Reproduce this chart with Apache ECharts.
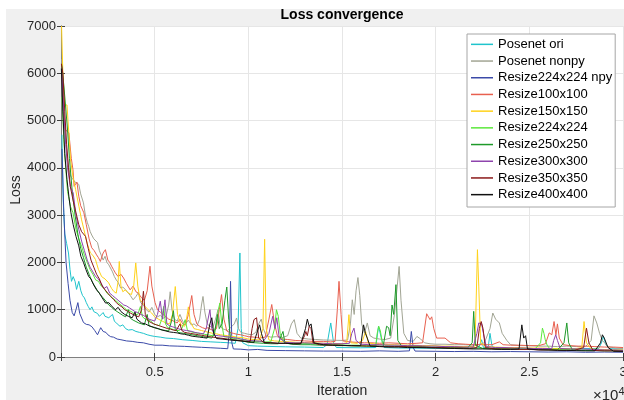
<!DOCTYPE html>
<html><head><meta charset="utf-8">
<script src="https://cdn.jsdelivr.net/npm/echarts@6/dist/echarts.min.js"></script>
<style>html,body{margin:0;padding:0;background:#fff}#c{width:624px;height:400px}</style>
</head><body><div id="c"></div>
<script>
// ---- data: [iteration, loss] ----
const seriesNames = ['Posenet ori','Posenet nonpy','Resize224x224 npy','Resize100x100','Resize150x150','Resize224x224','Resize250x250','Resize300x300','Resize350x350','Resize400x400'];
const xTicks = [5000,10000,15000,20000,25000,30000];
const yTicks = [0,1000,2000,3000,4000,5000,6000,7000];

const poseOri = [[50,4700],[120,3300],[200,2600],[300,2400],[400,2200],[480,1850],[560,1600],[650,1700],[750,1600],[830,1430],[950,1600],[1060,1400],[1150,1300],[1250,1250],[1350,1150],[1450,1070],[1550,1000],[1650,1060],[1750,960],[1850,980],[1950,920],[2050,860],[2150,880],[2250,940],[2350,860],[2450,900],[2550,830],[2650,800],[2750,900],[2850,760],[3000,700],[3150,650],[3300,680],[3450,600],[3600,570],[3800,580],[4000,540],[4200,520],[4400,500],[4600,470],[4800,450],[5000,435],[5300,420],[5600,400],[6000,390],[6500,365],[7000,350],[7500,330],[8000,320],[8500,310],[9000,300],[9300,290],[9450,600],[9550,2200],[9620,600],[9700,300],[10000,240],[10500,230],[11000,225],[12000,215],[13000,210],[14000,200],[14200,260],[14400,720],[14550,300],[14700,200],[16000,195],[16800,200],[16950,650],[17100,400],[17250,200],[18000,190],[20000,185],[22000,180],[22300,200],[22450,365],[22550,200],[22800,190],[22900,500],[23000,250],[23100,190],[25000,180],[27000,175],[28700,180],[28850,300],[28950,435],[29100,250],[29300,175],[30000,170]];

const poseNonpy = [[50,6300],[150,5200],[250,4600],[350,4200],[450,3900],[550,3800],[650,3750],[750,3700],[850,3700],[950,3650],[1050,3450],[1200,3260],[1300,3000],[1400,2850],[1480,2760],[1560,2650],[1640,2580],[1750,2500],[1850,2470],[1950,2420],[2050,2250],[2150,2150],[2250,2050],[2350,2130],[2450,2000],[2550,1950],[2650,1920],[2750,1800],[2850,1700],[2950,1630],[3050,1580],[3180,1460],[3300,1480],[3450,1420],[3550,1440],[3700,1300],[3850,1210],[4000,1280],[4130,1360],[4250,1150],[4400,1100],[4550,1000],[4700,950],[4850,1050],[5000,900],[5150,850],[5300,880],[5450,820],[5600,850],[5750,1100],[5830,1380],[5920,1000],[6050,800],[6200,760],[6350,900],[6500,750],[6650,700],[6800,780],[6950,680],[7100,700],[7250,650],[7400,800],[7500,1100],[7580,1280],[7680,950],[7800,700],[7950,650],[8100,620],[8250,800],[8380,1000],[8480,700],[8600,600],[8750,580],[8900,560],[9050,620],[9250,700],[9370,825],[9480,600],[9600,520],[9800,500],[10000,480],[10200,470],[10400,520],[10550,700],[10690,800],[10800,600],[10950,450],[11200,420],[11500,430],[11800,410],[12100,450],[12300,700],[12450,790],[12600,500],[12800,400],[13200,380],[13600,370],[14000,360],[14500,355],[15000,350],[15300,360],[15450,700],[15550,1210],[15650,900],[15750,1400],[15850,1680],[15950,1300],[16050,700],[16200,500],[16350,720],[16500,450],[16700,400],[17000,380],[17300,370],[17600,400],[17800,900],[17950,1500],[18050,1915],[18150,1200],[18300,500],[18500,350],[18800,330],[19000,435],[19200,380],[19400,300],[19700,280],[20000,270],[20500,270],[21000,260],[21500,260],[22000,250],[22300,260],[22600,300],[22900,600],[23050,930],[23200,800],[23400,720],[23550,500],[23800,350],[24000,260],[24500,240],[25000,240],[25500,230],[26000,230],[26500,220],[27000,230],[27500,220],[28000,220],[28300,350],[28450,870],[28600,720],[28750,500],[28900,350],[29200,220],[29600,190],[30000,180]];

const resize224npy = [[50,4400],[150,3050],[270,2000],[380,1550],[480,1200],[600,940],[700,870],[800,1000],[900,1150],[1000,920],[1100,900],[1200,730],[1350,690],[1500,680],[1650,640],[1800,560],[1950,470],[2050,560],[2120,620],[2250,540],[2400,520],[2500,470],[2650,430],[2800,420],[3000,380],[3200,365],[3500,340],[3800,330],[4100,310],[4400,300],[4700,270],[5000,250],[5400,250],[5800,235],[6200,230],[6600,225],[7000,215],[7500,205],[8000,195],[8500,185],[8900,175],[9000,600],[9050,1600],[9120,300],[9200,170],[9600,165],[10000,150],[10500,160],[11000,140],[12000,135],[13000,130],[14000,125],[15000,125],[16000,120],[17000,130],[18000,120],[18600,130],[18700,540],[18800,200],[18900,125],[20000,120],[21000,115],[22000,120],[23000,110],[24000,115],[25000,110],[26000,105],[27000,110],[28000,100],[29000,105],[30000,100]];

const resize100 = [[50,6000],[150,5000],[250,4800],[420,4740],[550,4200],[640,3960],[700,3610],[850,3700],[950,3400],[1050,3200],[1220,3050],[1350,2800],[1500,2500],[1640,2310],[1770,2250],[1900,2160],[2000,2100],[2100,2020],[2250,2200],[2370,2270],[2500,2050],[2600,2000],[2700,1920],[2800,1850],[2900,1780],[3050,1700],[3200,1750],[3340,1670],[3500,1550],[3690,1420],[3850,1500],[4000,1380],[4130,1350],[4300,1250],[4450,1200],[4600,1400],[4750,1920],[4850,1500],[5020,1150],[5150,1000],[5300,950],[5450,900],[5600,850],[5750,800],[5900,780],[6050,750],[6200,720],[6350,800],[6500,700],[6650,680],[6800,900],[6980,1300],[7100,900],[7250,700],[7400,650],[7550,620],[7700,600],[7850,620],[8000,580],[8150,560],[8300,600],[8450,1000],[8570,1320],[8700,800],[8850,550],[9000,520],[9200,500],[9400,480],[9600,470],[9800,450],[10000,430],[10300,420],[10600,400],[10900,420],[11100,800],[11250,1110],[11400,700],[11550,450],[11800,380],[12100,370],[12500,350],[13000,340],[13500,330],[14000,330],[14400,320],[14630,330],[14750,1000],[14840,1600],[14950,900],[15050,340],[15400,320],[15800,310],[16200,300],[16600,300],[17000,290],[17500,300],[18000,290],[18500,280],[19000,290],[19300,300],[19520,915],[19700,790],[19790,850],[19900,600],[20050,400],[20500,400],[20800,300],[21200,280],[21600,270],[22000,260],[22500,260],[23000,260],[23400,320],[23600,260],[24000,250],[24500,250],[25000,240],[25500,240],[25860,280],[26060,510],[26200,470],[26320,750],[26420,470],[26500,700],[26600,400],[26800,260],[27200,240],[27600,230],[28000,230],[28500,220],[29000,210],[29500,210],[30000,200]];

const resize150 = [[30,7000],[100,6000],[200,5330],[320,5330],[420,5300],[510,4170],[640,3800],[780,3540],[960,3180],[1100,2900],[1220,2700],[1400,2400],[1570,2200],[1700,2150],[1840,2060],[2000,1850],[2170,1700],[2350,1650],[2540,1570],[2700,1450],[2810,1390],[2950,1350],[3050,1600],[3110,2020],[3200,1500],[3300,1380],[3430,1420],[3600,1350],[3760,1320],[3880,1500],[3990,1990],[4100,1500],[4220,1210],[4350,1150],[4490,1070],[4650,1000],[4840,930],[5000,850],[5200,800],[5400,760],[5600,720],[5800,700],[5950,900],[6100,1490],[6220,900],[6400,680],[6600,650],[6700,800],[6800,1060],[6900,750],[7100,600],[7300,580],[7500,560],[7700,540],[7900,520],[8100,500],[8300,490],[8500,470],[8700,460],[8900,450],[9100,440],[9400,420],[9700,410],[10000,380],[10300,370],[10600,360],[10780,600],[10870,2490],[10950,600],[11100,360],[11400,340],[11800,330],[12200,320],[12600,310],[13000,300],[13500,300],[14000,290],[14500,290],[15000,280],[15250,300],[15370,895],[15480,300],[15800,290],[16100,350],[16260,540],[16400,300],[16800,270],[17300,260],[17800,260],[18300,250],[18800,250],[19300,240],[19800,240],[20300,230],[20800,230],[21300,220],[21800,220],[22100,230],[22230,2270],[22300,1500],[22400,300],[22700,220],[23200,210],[23800,200],[24400,200],[25000,190],[25600,190],[26200,180],[26800,180],[27400,170],[27800,200],[27920,750],[28050,300],[28300,170],[28900,160],[29500,150],[30000,150]];

const resize224 = [[50,5500],[150,4600],[250,4000],[350,3500],[510,3180],[640,3050],[800,2700],[950,2500],[1100,2340],[1250,2150],[1400,2000],[1550,1850],[1700,1750],[1850,1630],[2000,1600],[2150,1500],[2300,1450],[2450,1350],[2600,1300],[2750,1250],[2900,1200],[3050,1150],[3200,1100],[3350,1050],[3500,1000],[3650,980],[3800,950],[3950,900],[4100,900],[4240,1070],[4350,850],[4500,800],[4650,780],[4800,760],[4950,700],[5100,680],[5250,660],[5380,800],[5480,1070],[5580,700],[5700,620],[5850,600],[6000,580],[6150,560],[6300,560],[6450,600],[6630,790],[6750,560],[6900,540],[7050,520],[7200,510],[7350,500],[7500,490],[7650,480],[7800,470],[7950,460],[8100,450],[8300,700],[8400,1000],[8480,1140],[8580,700],[8700,430],[8900,420],[9100,400],[9300,390],[9500,380],[9700,370],[10000,340],[10300,330],[10600,330],[10900,320],[11200,320],[11400,600],[11500,1000],[11600,860],[11700,500],[11900,310],[12300,300],[12800,290],[13300,280],[13800,270],[14300,260],[14800,260],[15300,250],[15800,250],[16300,240],[16800,240],[16880,500],[16960,650],[17050,550],[17150,300],[17300,240],[17800,230],[18300,230],[18800,220],[19300,220],[19800,210],[20300,210],[20800,200],[21300,200],[21800,190],[22300,190],[22800,180],[23300,180],[23800,180],[24300,170],[24800,170],[25300,170],[25600,300],[25700,610],[25780,500],[25850,365],[25950,250],[26100,170],[26600,160],[27200,160],[27800,150],[28400,150],[29000,140],[29500,140],[30000,140]];

const resize250 = [[30,6200],[150,5750],[250,5760],[350,4800],[450,4200],[600,3500],[750,3000],[900,2600],[1050,2300],[1200,2100],[1350,1900],[1500,1750],[1650,1600],[1800,1500],[1950,1400],[2100,1320],[2250,1250],[2400,1180],[2550,1100],[2700,1050],[2850,1000],[3000,960],[3150,920],[3300,880],[3450,850],[3600,1000],[3700,820],[3850,780],[4000,750],[4150,720],[4300,700],[4450,680],[4600,900],[4700,660],[4850,640],[5000,620],[5150,600],[5300,580],[5450,570],[5600,560],[5750,550],[5900,760],[6000,980],[6100,600],[6250,520],[6400,510],[6550,500],[6700,490],[6850,480],[7000,470],[7150,460],[7300,450],[7450,440],[7600,430],[7750,420],[7900,410],[8050,400],[8200,500],[8350,900],[8450,600],[8600,700],[8750,1200],[8850,1480],[8950,800],[9050,380],[9200,360],[9400,350],[9600,340],[9800,330],[10000,310],[10400,300],[10800,290],[11200,280],[11600,280],[11750,450],[11850,540],[11950,300],[12300,270],[12800,260],[13300,260],[13800,250],[14300,250],[14800,240],[15300,240],[15800,230],[16300,230],[16800,230],[17200,230],[17380,650],[17490,620],[17570,450],[17670,1100],[17760,900],[17880,1530],[17980,350],[18200,220],[18700,210],[19200,210],[19700,200],[20200,200],[20700,190],[21200,190],[21700,190],[21950,300],[22030,965],[22120,250],[22500,180],[23000,180],[23500,170],[24000,170],[24500,160],[25000,160],[25500,160],[26000,150],[26500,150],[26850,300],[27000,720],[27100,300],[27300,150],[27800,140],[28400,140],[29000,130],[29500,130],[30000,130]];

const resize300 = [[50,6000],[150,5200],[250,4500],[350,4000],[500,3600],[650,3470],[800,3000],[950,2700],[1100,2450],[1250,2250],[1400,2050],[1550,1900],[1700,1800],[1850,1700],[2000,1650],[2150,1550],[2300,1450],[2450,1490],[2600,1350],[2750,1300],[2900,1250],[3050,1200],[3200,1150],[3350,1100],[3500,1080],[3650,1040],[3800,1000],[3950,960],[4100,940],[4250,900],[4400,880],[4550,840],[4700,800],[4850,780],[5000,760],[5150,900],[5300,1180],[5420,800],[5550,1210],[5650,700],[5800,660],[5950,640],[6100,620],[6250,600],[6400,580],[6550,570],[6700,560],[6850,550],[7000,540],[7150,520],[7300,510],[7450,500],[7600,490],[7750,600],[7950,1000],[8050,600],[8200,460],[8400,450],[8600,440],[8800,430],[9000,420],[9200,410],[9400,400],[9600,380],[9800,370],[10000,350],[10400,340],[10800,330],[11100,500],[11300,860],[11420,600],[11520,830],[11650,400],[12000,310],[12500,300],[13000,300],[13500,290],[14000,290],[14500,280],[15000,280],[15400,290],[15520,500],[15640,610],[15750,350],[16000,270],[16500,260],[17000,260],[17500,250],[18000,250],[18500,240],[19000,240],[19500,230],[20000,230],[20500,220],[21000,220],[21500,210],[22000,210],[22200,500],[22300,720],[22350,750],[22450,700],[22550,500],[22700,220],[23200,200],[23700,200],[24200,190],[24700,190],[25200,180],[25700,180],[26200,180],[26300,350],[26410,470],[26500,350],[26650,180],[27200,170],[27800,170],[28400,160],[29000,150],[29500,150],[30000,140]];

const resize350 = [[20,6200],[100,6000],[200,5200],[300,4500],[400,4000],[500,3600],[650,3300],[800,3050],[950,2800],[1100,2650],[1310,2550],[1450,2300],[1600,2050],[1750,1900],[1900,1750],[2050,1650],[2200,1500],[2350,1420],[2500,1350],[2650,1280],[2800,1220],[2950,1150],[3100,1100],[3250,1060],[3400,1000],[3550,970],[3700,930],[3850,900],[4000,870],[4150,850],[4300,1000],[4400,1390],[4500,900],[4650,760],[4800,730],[4950,700],[5100,680],[5250,660],[5400,640],[5550,620],[5700,600],[5850,590],[6000,570],[6150,560],[6250,540],[6350,700],[6450,560],[6600,520],[6750,510],[6900,500],[7050,490],[7200,480],[7350,470],[7500,460],[7650,450],[7800,440],[7950,430],[8100,420],[8300,410],[8500,400],[8700,390],[8900,380],[9100,370],[9300,360],[9500,350],[9700,340],[9900,330],[10100,330],[10200,600],[10300,790],[10440,830],[10550,400],[10800,310],[11200,300],[11600,290],[12000,290],[12400,280],[12800,280],[13000,450],[13070,540],[13150,450],[13250,650],[13350,600],[13450,300],[13800,260],[14300,250],[14800,250],[15300,240],[15800,240],[16300,230],[16800,230],[17300,220],[17800,220],[18300,220],[18800,210],[19300,210],[19800,200],[20300,200],[20800,190],[21300,190],[21800,180],[22200,200],[22330,600],[22430,750],[22530,600],[22650,200],[23200,170],[23800,170],[24400,160],[25000,160],[25600,150],[26200,150],[26800,140],[27400,140],[27900,200],[28050,610],[28180,300],[28400,140],[29000,130],[29500,130],[30000,120]];

const resize400 = [[20,6100],[100,5200],[200,4300],[320,3750],[420,3400],[530,3050],[650,2800],[800,2550],[950,2350],[1060,2130],[1200,2000],[1330,1850],[1480,1700],[1600,1650],[1750,1520],[1900,1420],[2050,1350],[2200,1250],[2380,1140],[2550,1150],[2700,1080],[2900,1000],[3050,1050],[3200,960],[3400,900],[3600,860],[3800,830],[3950,950],[4050,800],[4300,720],[4500,700],[4700,660],[5000,620],[5200,600],[5400,570],[5600,550],[5800,530],[6000,520],[6200,510],[6400,490],[6600,480],[6800,460],[7000,440],[7200,430],[7400,420],[7600,410],[7800,400],[7950,700],[8050,830],[8150,500],[8300,390],[8600,380],[9000,360],[9300,350],[9600,340],[10000,320],[10300,310],[10450,500],[10600,680],[10700,500],[10850,300],[11200,300],[11600,290],[12000,290],[12400,280],[12800,280],[13050,600],[13150,800],[13250,650],[13350,700],[13500,300],[14000,260],[14500,250],[15000,245],[15500,240],[16000,240],[16150,680],[16250,500],[16350,400],[16500,230],[17000,220],[17500,210],[18000,210],[18500,200],[19000,200],[19500,195],[20000,190],[20500,185],[21000,180],[21500,175],[22000,170],[22500,170],[23000,165],[23500,160],[24000,160],[24450,170],[24600,680],[24700,400],[24800,450],[24900,170],[25500,150],[26000,150],[26500,140],[27000,140],[27500,135],[28000,130],[28500,130],[28800,300],[28900,470],[29000,400],[29100,420],[29200,200],[29500,120],[30000,120]];

const seriesData = [poseOri, poseNonpy, resize224npy, resize100, resize150, resize224, resize250, resize300, resize350, resize400];
const colors = ['#1fc4cc','#a2a594','#3b4aa8','#e8604f','#ffd21a','#5ce83c','#1e9a2a','#8e44ad','#8b1a1a','#111111'];

const FONT = '"Liberation Sans", Arial, Helvetica, sans-serif';
const chart = echarts.init(document.getElementById('c'), null, {renderer:'canvas'});
const axisGrey = '#7f7f7f';
const option = {
  animation: false,
  backgroundColor: '#f0f0f0',
  color: colors,
  textStyle: {fontFamily: FONT},
  grid: {left: 61, right: 1, top: 26, bottom: 43, containLabel: false, outerBoundsMode: 'none',
         show: true, backgroundColor: '#ffffff', borderWidth: 0},
  graphic: [
    {type:'rect', shape:{x:0,y:0,width:624,height:9}, style:{fill:'#ffffff'}, silent:true},
    {type:'rect', shape:{x:0,y:0,width:6,height:400}, style:{fill:'#ffffff'}, silent:true},
    {type:'text', x:342, y:8, style:{text:'Loss convergence', font:'bold 14px '+FONT, fill:'#000', textAlign:'center'}},
    {type:'text', x:16, y:190, rotation: Math.PI/2, style:{text:'Loss', font:'14px '+FONT, fill:'#262626', textAlign:'center', textVerticalAlign:'middle'}},
    {type:'text', x:593, y:386, style:{text:'×10{s|4}', font:'15px '+FONT, fill:'#262626', rich:{s:{fontSize:11, verticalAlign:'top', padding:[0,0,9,0], fill:'#262626'}}}}
  ],
  legend: {
    orient: 'vertical', left: 467, top: 34,
    padding: [2, 3, 4, 4], itemGap: 0,
    itemWidth: 22, itemHeight: 1.5, icon: 'rect',
    backgroundColor: '#ffffff', borderColor: '#a6a6a6', borderWidth: 1, borderRadius: 0,
    textStyle: {fontSize: 13, color: '#000', fontFamily: FONT, lineHeight: 16.7},
    data: seriesNames
  },
  xAxis: [
    {type:'value', min:0, max:30000, interval:5000, position:'bottom',
     name:'Iteration', nameLocation:'middle', nameGap:26,
     nameTextStyle:{fontSize:14, color:'#262626'},
     axisLine:{show:true, lineStyle:{color:axisGrey, width:1}},
     axisTick:{show:true, inside:true, length:4, lineStyle:{color:'#404040'}},
     axisLabel:{fontSize:13, color:'#262626', margin:9, showMaxLabel:true,
       formatter: v => (v===0 ? '' : String(v/10000))},
     splitLine:{show:true, lineStyle:{color:'#e6e6e6', width:1}}},
    {type:'value', min:0, max:30000, interval:5000, position:'top',
     axisLine:{show:true, lineStyle:{color:axisGrey, width:1}},
     axisTick:{show:true, inside:true, length:4, lineStyle:{color:'#404040'}},
     axisLabel:{show:false}, splitLine:{show:false}}
  ],
  yAxis: [
    {type:'value', min:0, max:7000, interval:1000, position:'left',
     axisLine:{show:true, lineStyle:{color:axisGrey, width:1}},
     axisTick:{show:true, inside:true, length:4, lineStyle:{color:'#404040'}},
     axisLabel:{fontSize:13, color:'#262626', margin:5, formatter: v => String(v)},
     splitLine:{show:true, lineStyle:{color:'#e6e6e6', width:1}}},
    {type:'value', min:0, max:7000, interval:1000, position:'right',
     axisLine:{show:true, lineStyle:{color:axisGrey, width:1}},
     axisTick:{show:true, inside:true, length:4, lineStyle:{color:'#404040'}},
     axisLabel:{show:false}, splitLine:{show:false}}
  ],
  series: seriesNames.map((n,i) => ({
    name: n, type:'line', data: seriesData[i], xAxisIndex:0, yAxisIndex:0,
    showSymbol:false, symbol:'none', clip:true,
    lineStyle:{width:1, color:colors[i]}, itemStyle:{color:colors[i]},
    emphasis:{disabled:true}
  }))
};
chart.setOption(option);
</script></body></html>
